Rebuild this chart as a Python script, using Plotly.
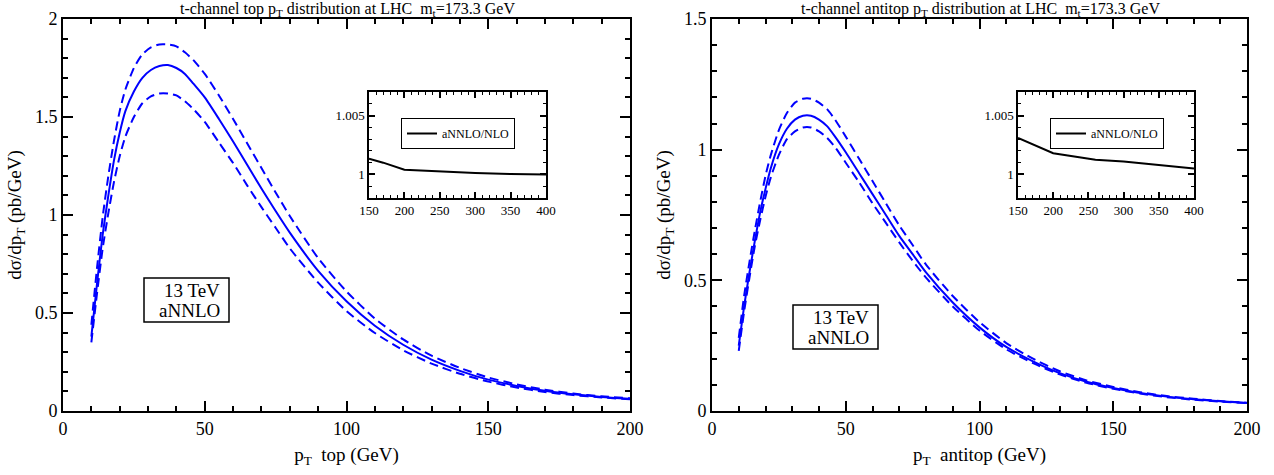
import plotly.graph_objects as go

# ---------------- data ----------------
pt = [10, 12, 14, 16, 18, 20, 22, 25, 28, 31, 34, 37, 40, 43, 46, 50, 55, 60, 65, 70,
      75, 80, 90, 100, 110, 120, 130, 140, 150, 160, 170, 180, 190, 200]

top_central = [0.38, 0.65, 0.90, 1.10, 1.28, 1.42, 1.53, 1.63, 1.70, 1.74, 1.76, 1.765, 1.75, 1.72,
               1.67, 1.60, 1.49, 1.375, 1.255, 1.135, 1.02, 0.91, 0.715, 0.56, 0.435, 0.338, 0.262, 0.205,
               0.16, 0.128, 0.103, 0.085, 0.072, 0.063]
top_upper = [0.44, 0.73, 0.99, 1.20, 1.38, 1.53, 1.64, 1.75, 1.82, 1.855, 1.87, 1.87, 1.86, 1.83,
             1.79, 1.72, 1.61, 1.49, 1.365, 1.24, 1.115, 0.995, 0.78, 0.61, 0.472, 0.365, 0.282, 0.22,
             0.171, 0.136, 0.109, 0.089, 0.075, 0.065]
top_lower = [0.35, 0.60, 0.83, 1.01, 1.17, 1.30, 1.40, 1.50, 1.57, 1.605, 1.62, 1.62, 1.61, 1.58,
             1.54, 1.475, 1.37, 1.265, 1.15, 1.04, 0.935, 0.83, 0.655, 0.51, 0.398, 0.31, 0.242, 0.19,
             0.15, 0.12, 0.097, 0.081, 0.069, 0.060]

anti_central = [0.25, 0.40, 0.53, 0.65, 0.76, 0.85, 0.93, 1.02, 1.08, 1.115, 1.13, 1.13, 1.115, 1.09,
                1.05, 0.99, 0.91, 0.83, 0.75, 0.67, 0.60, 0.53, 0.415, 0.32, 0.245, 0.19, 0.145, 0.112,
                0.088, 0.069, 0.055, 0.045, 0.037, 0.031]
anti_upper = [0.28, 0.44, 0.57, 0.69, 0.80, 0.90, 0.98, 1.075, 1.14, 1.18, 1.195, 1.195, 1.18, 1.155,
              1.115, 1.05, 0.965, 0.88, 0.795, 0.71, 0.635, 0.56, 0.44, 0.34, 0.26, 0.20, 0.152, 0.117,
              0.092, 0.072, 0.057, 0.047, 0.038, 0.032]
anti_lower = [0.23, 0.38, 0.51, 0.63, 0.73, 0.82, 0.895, 0.98, 1.04, 1.07, 1.085, 1.085, 1.07, 1.045,
              1.01, 0.95, 0.875, 0.795, 0.72, 0.645, 0.575, 0.51, 0.40, 0.308, 0.236, 0.183, 0.14, 0.108,
              0.085, 0.067, 0.053, 0.043, 0.036, 0.030]

ratio_pt_top = [150, 170, 200, 250, 300, 350, 400]
ratio_top = [1.00133, 1.0010, 1.0004, 1.00025, 1.00012, 1.00004, 1.0000]
ratio_pt_anti = [150, 200, 260, 300, 350, 400]
ratio_anti = [1.0031, 1.0018, 1.00125, 1.0011, 1.0008, 1.0005]

titles = ["t-channel top p<sub>T</sub> distribution at LHC  m<sub>t</sub>=173.3 GeV",
          "t-channel antitop p<sub>T</sub> distribution at LHC  m<sub>t</sub>=173.3 GeV"]
x_titles = ["p<sub>T</sub>  top (GeV)", "p<sub>T</sub>  antitop (GeV)"]
y_title = "dσ/dp<sub>T</sub> (pb/GeV)"
box_lines = ["13 TeV", "aNNLO"]
legend_name = "aNNLO/NLO"

BLUE = "#0000ff"
FONT = "Liberation Serif"
W, H = 1274, 475

def px_x(p):
    return p / W

def px_y(p):
    return 1 - p / H

fig = go.Figure()

def add_main(x, c, u, l, xa, ya):
    for yy, dash in ((u, "dash"), (c, "solid"), (l, "dash")):
        fig.add_trace(go.Scatter(x=x, y=yy, mode="lines", xaxis=xa, yaxis=ya, showlegend=False,
                                 line=dict(color=BLUE, width=2, dash=("9px,5px" if dash == "dash" else "solid"),
                                           shape="spline", smoothing=0.6)))

add_main(pt, top_central, top_upper, top_lower, "x", "y")
add_main(pt, anti_central, anti_upper, anti_lower, "x2", "y2")

fig.add_trace(go.Scatter(x=ratio_pt_top, y=ratio_top, mode="lines", xaxis="x3", yaxis="y3",
                         name=legend_name, legend="legend", line=dict(color="black", width=2)))
fig.add_trace(go.Scatter(x=ratio_pt_anti, y=ratio_anti, mode="lines", xaxis="x4", yaxis="y4",
                         name=legend_name, legend="legend2", line=dict(color="black", width=2)))

axis_common = dict(showgrid=False, zeroline=False, showline=True, linecolor="black", linewidth=2,
                   mirror="allticks", ticks="inside", tickcolor="black", tickwidth=1.5, automargin=False,
                   tickfont=dict(family=FONT, size=18, color="black"))

def main_x(domain, title, anchor):
    return dict(axis_common, domain=domain, range=[0, 200], dtick=50, tick0=0, ticklen=10, anchor=anchor,
                minor=dict(dtick=10, ticks="inside", ticklen=5, tickcolor="black", tickwidth=1.5),
                title=dict(text=title, font=dict(family=FONT, size=19, color="black"), standoff=10))

def main_y(domain, rng, anchor):
    return dict(axis_common, domain=domain, range=rng, dtick=0.5, tick0=0, ticklen=10, anchor=anchor,
                minor=dict(dtick=0.1, ticks="inside", ticklen=5, tickcolor="black", tickwidth=1.5),
                title=dict(text=y_title, font=dict(family=FONT, size=19, color="black"), standoff=8))

def inset_x(domain, anchor):
    return dict(axis_common, domain=domain, range=[150, 400], dtick=50, tick0=150, ticklen=6, anchor=anchor,
                tickfont=dict(family=FONT, size=13, color="black"), linewidth=1.5,
                minor=dict(dtick=10, ticks="inside", ticklen=3, tickcolor="black", tickwidth=1))

def inset_y(domain, anchor):
    return dict(axis_common, domain=domain, range=[0.998, 1.007], dtick=0.005, tick0=1.0, ticklen=6,
                anchor=anchor, tickfont=dict(family=FONT, size=13, color="black"), linewidth=1.5,
                minor=dict(dtick=0.001, ticks="inside", ticklen=3, tickcolor="black", tickwidth=1))

y_dom = [px_y(411), px_y(19)]
inset_ydom = [px_y(198), px_y(92)]

fig.update_layout(
    width=W, height=H, margin=dict(l=0, r=0, t=0, b=0, autoexpand=False),
    paper_bgcolor="white", plot_bgcolor="white",
    font=dict(family=FONT, color="black"),
    xaxis=main_x([px_x(63), px_x(630)], x_titles[0], "y"),
    yaxis=main_y(y_dom, [0, 2], "x"),
    xaxis2=main_x([px_x(712), px_x(1247)], x_titles[1], "y2"),
    yaxis2=main_y(y_dom, [0, 1.5], "x2"),
    xaxis3=inset_x([px_x(369), px_x(546)], "y3"),
    yaxis3=inset_y(inset_ydom, "x3"),
    xaxis4=inset_x([px_x(1018), px_x(1194)], "y4"),
    yaxis4=inset_y(inset_ydom, "x4"),
    legend=dict(x=px_x(401), y=px_y(118), xanchor="left", yanchor="top", bordercolor="black",
                borderwidth=1, bgcolor="white", font=dict(family=FONT, size=12, color="black"),
                itemwidth=30, tracegroupgap=0),
    legend2=dict(x=px_x(1050), y=px_y(118), xanchor="left", yanchor="top", bordercolor="black",
                 borderwidth=1, bgcolor="white", font=dict(family=FONT, size=12, color="black"),
                 itemwidth=30, tracegroupgap=0),
)

annotations = []
for t, cx in zip(titles, (347, 980)):
    annotations.append(dict(text=t, x=px_x(cx), y=px_y(21), xref="paper", yref="paper", showarrow=False,
                            xanchor="center", yanchor="bottom", font=dict(family=FONT, size=16, color="black")))

shapes = []
for (bx0, by0, bx1, by1) in ((144, 278, 229, 322), (793, 305, 878, 349)):
    shapes.append(dict(type="rect", xref="paper", yref="paper", x0=px_x(bx0), x1=px_x(bx1),
                       y0=px_y(by1), y1=px_y(by0), line=dict(color="black", width=1.5),
                       fillcolor="white", layer="above"))
    for i, line in enumerate(box_lines):
        annotations.append(dict(text=line, x=px_x(bx1 - 7), y=px_y(by0 + 12 + i * 20), xref="paper",
                                yref="paper", showarrow=False, xanchor="right", yanchor="middle",
                                font=dict(family=FONT, size=19, color="black")))

fig.update_layout(annotations=annotations, shapes=shapes)

fig.write_html("out.html")
